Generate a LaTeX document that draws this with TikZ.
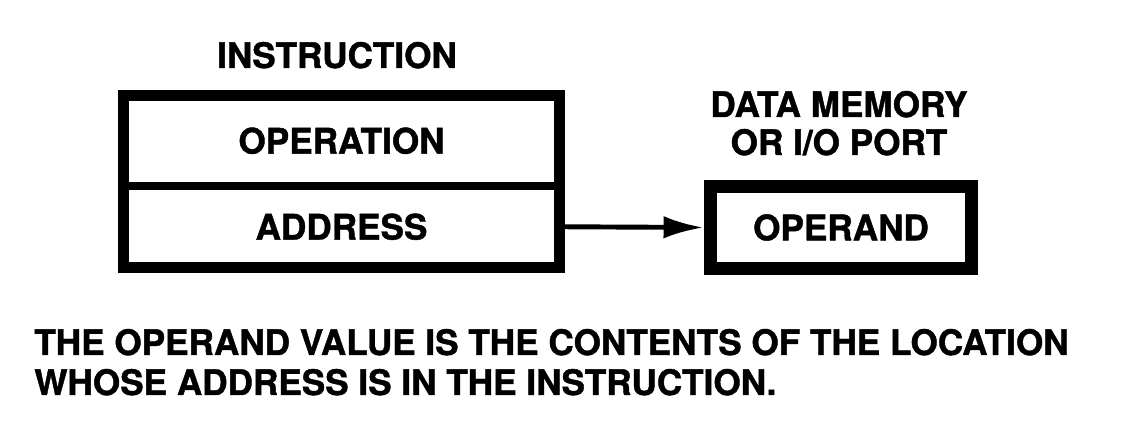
\documentclass[tikz,border=0pt]{standalone}
\usepackage{fontspec}
\setmainfont{TeX Gyre Heros}[BoldFeatures={FakeBold=1.2}]
\usepackage{tikz}
\usetikzlibrary{arrows.meta,fit,positioning}
\tikzstyle{label}=[font=\fontsize{20}{23}\selectfont\bfseries, inner sep=0pt]
\tikzstyle{field}=[draw, line width=4.5pt, minimum width=8.72cm, inner sep=0pt, outer sep=0pt, font=\fontsize{20}{23}\selectfont\bfseries]
\tikzstyle{location}=[draw, line width=7.4pt, minimum width=5.24cm, minimum height=1.66cm, inner sep=0pt, font=\fontsize{20}{23}\selectfont\bfseries]
\tikzstyle{link}=[line width=2.8pt, -{Latex[length=0.8cm,width=0.45cm]}]

\begin{document}
\begin{tikzpicture}[x=0.02cm, y=-0.02cm]
	\useasboundingbox (0,0) rectangle (1125,445);
	\node[label, anchor=base] (instrlabel) at (337,68) {INSTRUCTION};
	\node[field, minimum height=1.81cm] (operation) at (341.5,140.75) {OPERATION};
	\node[field, minimum height=1.63cm] (address) at (341.5,226.75) {ADDRESS};
	\node[draw, line width=6pt, inner sep=0pt, fit=(operation)(address)] (instruction) {};
	\node[label, anchor=base] (memory) at (839,117) {DATA MEMORY};
	\node[label, anchor=base] (port) at (839,155) {OR I/O PORT};
	\node[location] (operand) at (841,227.5) {OPERAND};
	\draw[link] (address.east) -- (operand.west);
	% explanation
	\node[label, anchor=base west] (note1) at (34,355) {THE OPERAND VALUE IS THE CONTENTS OF THE LOCATION};
	\node[label, anchor=base west] (note2) at (34,395) {WHOSE ADDRESS IS IN THE INSTRUCTION.};
\end{tikzpicture}
\end{document}
